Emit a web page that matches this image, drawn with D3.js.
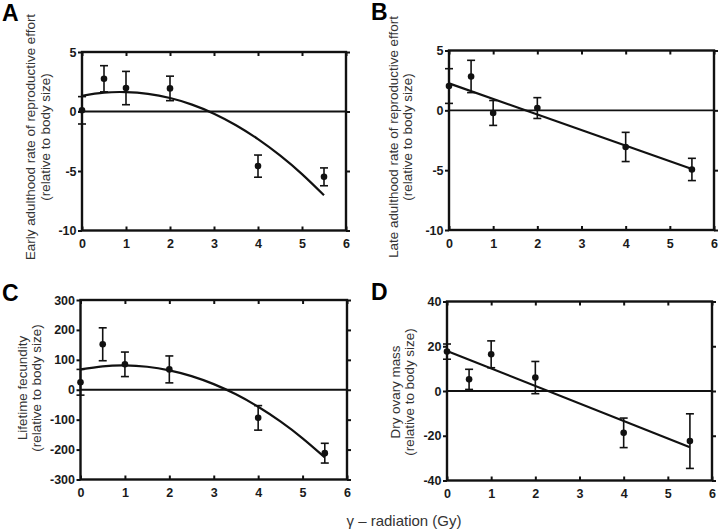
<!DOCTYPE html>
<html>
<head>
<meta charset="utf-8">
<script src="https://cdn.jsdelivr.net/npm/d3@7"></script>
<style>
  html, body { margin: 0; padding: 0; background: #fff; }
  svg { display: block; }
  text { font-family: "Liberation Sans", Arial, Helvetica, sans-serif; }
</style>
</head>
<body>
<svg id="chart" width="720" height="532"></svg>
<script>
// ---------------- data ----------------
const xTicks = [0, 1, 2, 3, 4, 5, 6];
const doses = [0, 0.5, 1, 2, 4, 5.5];

const earlyMean = [0.1, 2.75, 1.97, 1.94, -4.59, -5.49];
const earlyErr  = [1.15, 1.1, 1.4, 1.03, 0.93, 0.75];

const lateMean = [2.03, 2.83, -0.22, 0.19, -3.06, -4.94];
const lateErr  = [1.45, 1.35, 1.04, 0.87, 1.22, 0.93];

const fecMean = [25, 152, 85, 68, -94, -212];
const fecErr  = [43, 55, 41, 45, 41, 33];

const ovaryMean = [17.6, 5.2, 16.4, 6.0, -18.7, -22.4];
const ovaryErr  = [3.4, 4.5, 6.0, 7.2, 6.6, 12.2];

// fitted curves
const curveX   = [0, 0.5, 1, 1.5, 2, 2.5, 3, 3.5, 4, 4.5, 5, 5.5];
const earlyFit = [1.32, 1.58, 1.63, 1.48, 1.13, 0.58, -0.18, -1.15, -2.32, -3.69, -5.26, -7.04];
const fecFit   = [68, 78.3, 81.3, 76.8, 64.9, 45.6, 18.8, -15.3, -56.9, -105.9, -162.3, -226.1];
const lineX    = [0, 5.5];
const lateFit  = [2.25, -4.9];
const ovaryFit = [17.9, -25.1];

const yTicksAB = [5, 0, -5, -10];
const yTicksC  = [300, 200, 100, 0, -100, -200, -300];
const yTicksD  = [40, 20, 0, -20, -40];

const panelLetters = ["A", "B", "C", "D"];
const yTitles = [
  ["Early adulthood rate of reproductive effort", "(relative to body size)"],
  ["Late adulthood rate of reproductive effort", "(relative to body size)"],
  ["Lifetime fecundity", "(relative to body size)"],
  ["Dry ovary mass", "(relative to body size)"]
];
const xTitle = "\u03B3 \u2013 radiation (Gy)";

// ---------------- layout ----------------
const svg = d3.select("#chart");
const INK = "#111";
const fmt = d => String(d);

const panels = [
  { letter: panelLetters[0], lx: 2, ly: 21, x0: 82, x1: 346, yTop: 52, yBot: 230.5,
    dom: [-10, 5], ticks: yTicksAB, mean: earlyMean, err: earlyErr,
    fx: curveX, fy: earlyFit, title: yTitles[0], tb: [35, 49.5], tc: 137 },
  { letter: panelLetters[1], lx: 371, ly: 20, x0: 449, x1: 714, yTop: 50.5, yBot: 230,
    dom: [-10, 5], ticks: yTicksAB, mean: lateMean, err: lateErr,
    fx: lineX, fy: lateFit, title: yTitles[1], tb: [397.5, 412], tc: 137 },
  { letter: panelLetters[2], lx: 2, ly: 301, x0: 80.5, x1: 347, yTop: 300, yBot: 479.5,
    dom: [-300, 300], ticks: yTicksC, mean: fecMean, err: fecErr,
    fx: curveX, fy: fecFit, title: yTitles[2], tb: [26.5, 40.5], tc: 388 },
  { letter: panelLetters[3], lx: 371, ly: 300, x0: 447, x1: 712, yTop: 301.5, yBot: 480.5,
    dom: [-40, 40], ticks: yTicksD, mean: ovaryMean, err: ovaryErr,
    fx: lineX, fy: ovaryFit, title: yTitles[3], tb: [399.5, 414], tc: 392 }
];

function addAxis(parent, axis, tx, ty, showText) {
  const a = parent.append("g").attr("transform", `translate(${tx},${ty})`);
  a.call(axis);
  a.selectAll("path.domain").remove();
  a.selectAll(".tick line").style("stroke", INK).style("stroke-width", "2px");
  if (showText) {
    a.selectAll(".tick text")
      .style("fill", "#1a1a1a")
      .style("font-weight", "bold")
      .style("font-size", "12.5px");
  } else {
    a.selectAll(".tick text").remove();
  }
  return a;
}

panels.forEach(p => {
  const g = svg.append("g");
  const x = d3.scaleLinear().domain([0, 6]).range([p.x0, p.x1]);
  const y = d3.scaleLinear().domain(p.dom).range([p.yBot, p.yTop]);

  addAxis(g, d3.axisBottom(x).tickValues(xTicks).tickFormat(fmt).tickSizeInner(-4).tickSizeOuter(0).tickPadding(8.7), 0, p.yBot, true);
  addAxis(g, d3.axisTop(x).tickValues(xTicks).tickSizeInner(-4).tickSizeOuter(0), 0, p.yTop, false);
  addAxis(g, d3.axisLeft(y).tickValues(p.ticks).tickFormat(fmt).tickSizeInner(4).tickSizeOuter(0).tickPadding(1.5), p.x0, 0, true);
  addAxis(g, d3.axisRight(y).tickValues(p.ticks).tickSizeInner(4).tickSizeOuter(0), p.x1, 0, false);

  // frame
  g.append("rect")
    .attr("x", p.x0).attr("y", p.yTop)
    .attr("width", p.x1 - p.x0).attr("height", p.yBot - p.yTop)
    .style("fill", "none").style("stroke", INK).style("stroke-width", "2.4px");

  // zero line
  g.append("line")
    .attr("x1", p.x0).attr("x2", p.x1)
    .attr("y1", y(0)).attr("y2", y(0))
    .style("stroke", INK).style("stroke-width", "1.8px");

  // fitted line / curve
  const pts = p.fx.map((v, i) => [v, p.fy[i]]);
  g.append("path")
    .attr("d", d3.line().x(d => x(d[0])).y(d => y(d[1])).curve(d3.curveNatural)(pts))
    .style("fill", "none").style("stroke", INK).style("stroke-width", "2.2px");

  // error bars
  const cap = 4;
  doses.forEach((d, i) => {
    const cx = x(d), lo = y(p.mean[i] - p.err[i]), hi = y(p.mean[i] + p.err[i]);
    const eb = g.append("g").style("stroke", INK).style("stroke-width", "1.6px");
    eb.append("line").attr("x1", cx).attr("x2", cx).attr("y1", lo).attr("y2", hi);
    eb.append("line").attr("x1", cx - cap).attr("x2", cx + cap).attr("y1", lo).attr("y2", lo);
    eb.append("line").attr("x1", cx - cap).attr("x2", cx + cap).attr("y1", hi).attr("y2", hi);
  });

  // points
  g.selectAll("circle.pt").data(doses).join("circle")
    .attr("class", "pt")
    .attr("cx", d => x(d))
    .attr("cy", (d, i) => y(p.mean[i]))
    .attr("r", 3.3)
    .style("fill", INK);

  // y title (two lines, rotated)
  p.title.forEach((t, k) => {
    g.append("text")
      .attr("transform", `translate(${p.tb[k]},${p.tc}) rotate(-90)`)
      .attr("text-anchor", "middle")
      .style("font-size", "13.4px")
      .style("fill", "#333")
      .text(t);
  });

  // panel letter
  g.append("text")
    .attr("x", p.lx).attr("y", p.ly)
    .style("font-size", "23px").style("font-weight", "bold")
    .style("fill", "#000")
    .text(p.letter);
});

// shared x title
svg.append("text")
  .attr("x", 404).attr("y", 526)
  .attr("text-anchor", "middle")
  .style("font-size", "15px")
  .style("fill", "#333")
  .text(xTitle);
</script>
</body>
</html>
